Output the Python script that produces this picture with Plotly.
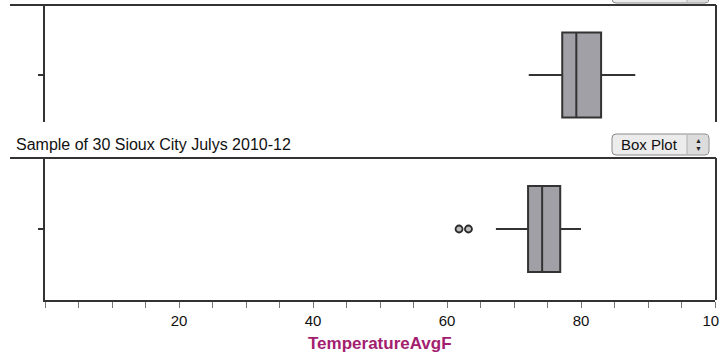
import plotly.graph_objects as go

W, H = 719, 354

# Summary statistics of average July temperature (°F)
panel_names = ["All Julys", "Sample of 30 Sioux City Julys 2010-12"]
axis_title = "TemperatureAvgF"
lower_fence = [72.2, 67.3]
q1 = [77.2, 72.1]
median = [79.3, 74.2]
q3 = [83.0, 76.9]
upper_fence = [88.1, 80.0]
sample_outliers = [61.8, 63.2]

tick_values = list(range(0, 101, 5))
tick_labels = [str(v) if v in (20, 40, 60, 80, 100) else "" for v in tick_values]


def px(x):
    return x / W


def py(y):
    return 1 - y / H


BOX_FILL = "#a0a0a6"
LINE = "#333333"
FONT = "Liberation Sans, Arial, sans-serif"

fig = go.Figure()

# top panel (xaxis2 / yaxis2)
fig.add_trace(go.Box(
    orientation="h", y=[0], q1=[q1[0]], median=[median[0]], q3=[q3[0]],
    lowerfence=[lower_fence[0]], upperfence=[upper_fence[0]],
    width=85, whiskerwidth=0, fillcolor=BOX_FILL,
    line=dict(color=LINE, width=2), boxpoints=False,
    xaxis="x2", yaxis="y2", showlegend=False, hoverinfo="skip",
))

# bottom panel (xaxis / yaxis)
fig.add_trace(go.Box(
    orientation="h", y=[0], q1=[q1[1]], median=[median[1]], q3=[q3[1]],
    lowerfence=[lower_fence[1]], upperfence=[upper_fence[1]],
    width=86, whiskerwidth=0, fillcolor=BOX_FILL,
    line=dict(color=LINE, width=2), boxpoints=False,
    xaxis="x", yaxis="y", showlegend=False, hoverinfo="skip",
))
fig.add_trace(go.Scatter(
    x=sample_outliers, y=[0] * len(sample_outliers), mode="markers",
    marker=dict(symbol="circle", size=7, color="#bdbdbd",
                line=dict(color="#2a2a2a", width=1.8)),
    xaxis="x", yaxis="y", showlegend=False, hoverinfo="skip",
))

x_dom = [px(45), px(715)]

fig.update_layout(
    width=W, height=H,
    margin=dict(l=0, r=0, t=0, b=0, autoexpand=False),
    paper_bgcolor="white", plot_bgcolor="white",
    font=dict(family=FONT, color="#111111"),
    xaxis=dict(
        domain=x_dom, range=[0, 100], anchor="y", automargin=False,
        tickmode="array", tickvals=tick_values, ticktext=tick_labels,
        ticks="outside", ticklen=6, tickwidth=1, tickcolor="#777777",
        ticklabeloverflow="allow",
        showline=True, linecolor=LINE, linewidth=2,
        showgrid=False, zeroline=False,
        tickfont=dict(size=15, color="#111111"),
    ),
    yaxis=dict(
        domain=[py(300), py(158)], range=[-71, 71], anchor="x", automargin=False,
        tickvals=[0], showticklabels=False, ticks="outside", ticklen=5,
        tickwidth=2, tickcolor=LINE,
        showline=True, linecolor=LINE, linewidth=2,
        showgrid=False, zeroline=False, fixedrange=True,
    ),
    xaxis2=dict(
        domain=x_dom, range=[0, 100], anchor="y2", matches="x", automargin=False,
        showticklabels=False, ticks="", showline=False,
        showgrid=False, zeroline=False,
    ),
    yaxis2=dict(
        domain=[py(122), py(5)], range=[-47, 70], anchor="x2", automargin=False,
        tickvals=[0], showticklabels=False, ticks="outside", ticklen=5,
        tickwidth=2, tickcolor=LINE,
        showline=True, linecolor=LINE, linewidth=2,
        showgrid=False, zeroline=False, fixedrange=True,
    ),
)

shapes = []
# panel frames: top rule and right edge
for top, bottom in [(5, 122), (158, 300)]:
    shapes.append(dict(type="line", xref="paper", yref="paper",
                       x0=px(10), x1=px(716), y0=py(top), y1=py(top),
                       line=dict(color=LINE, width=2)))
    shapes.append(dict(type="line", xref="paper", yref="paper",
                       x0=px(716), x1=px(716), y0=py(top), y1=py(bottom),
                       line=dict(color=LINE, width=2)))


def button(x0, y0, x1, y1):
    r = 4
    path = (f"M {px(x0 + r)} {py(y0)} L {px(x1 - r)} {py(y0)} "
            f"Q {px(x1)} {py(y0)} {px(x1)} {py(y0 + r)} "
            f"L {px(x1)} {py(y1 - r)} Q {px(x1)} {py(y1)} {px(x1 - r)} {py(y1)} "
            f"L {px(x0 + r)} {py(y1)} Q {px(x0)} {py(y1)} {px(x0)} {py(y1 - r)} "
            f"L {px(x0)} {py(y0 + r)} Q {px(x0)} {py(y0)} {px(x0 + r)} {py(y0)} Z")
    return [
        dict(type="path", xref="paper", yref="paper", path=path,
             fillcolor="#ececec", line=dict(color="#8a8a8a", width=1)),
        dict(type="rect", xref="paper", yref="paper",
             x0=px(x1 - 22), x1=px(x1 - 1), y0=py(y1 - 1), y1=py(y0 + 1),
             fillcolor="#dcdcdc", line=dict(width=0)),
        dict(type="line", xref="paper", yref="paper",
             x0=px(x1 - 22), x1=px(x1 - 22), y0=py(y0 + 1), y1=py(y1 - 1),
             line=dict(color="#b0b0b0", width=1)),
    ]


# selector buttons (the upper one is cut by the page edge)
shapes += button(612, -17, 709, 3)
shapes += button(612, 134, 709, 155)
fig.update_layout(shapes=shapes)

annotations = [
    dict(text=panel_names[1], xref="paper", yref="paper",
         x=px(14), y=py(145), xanchor="left", yanchor="middle",
         showarrow=False, font=dict(size=16, color="#111111")),
    dict(text=f"<b>{axis_title}</b>", xref="paper", yref="paper",
         x=px(380), y=py(343), xanchor="center", yanchor="middle",
         showarrow=False, font=dict(size=17, color="#a3206f")),
    dict(text="Box Plot", xref="paper", yref="paper",
         x=px(649), y=py(144), xanchor="center", yanchor="middle",
         showarrow=False, font=dict(size=15, color="#111111")),
    dict(text="▲", xref="paper", yref="paper",
         x=px(698), y=py(140.5), xanchor="center", yanchor="middle",
         showarrow=False, font=dict(size=7, color="#222222")),
    dict(text="▼", xref="paper", yref="paper",
         x=px(698), y=py(148.5), xanchor="center", yanchor="middle",
         showarrow=False, font=dict(size=7, color="#222222")),
]
fig.update_layout(annotations=annotations)

fig.write_html("out.html")
